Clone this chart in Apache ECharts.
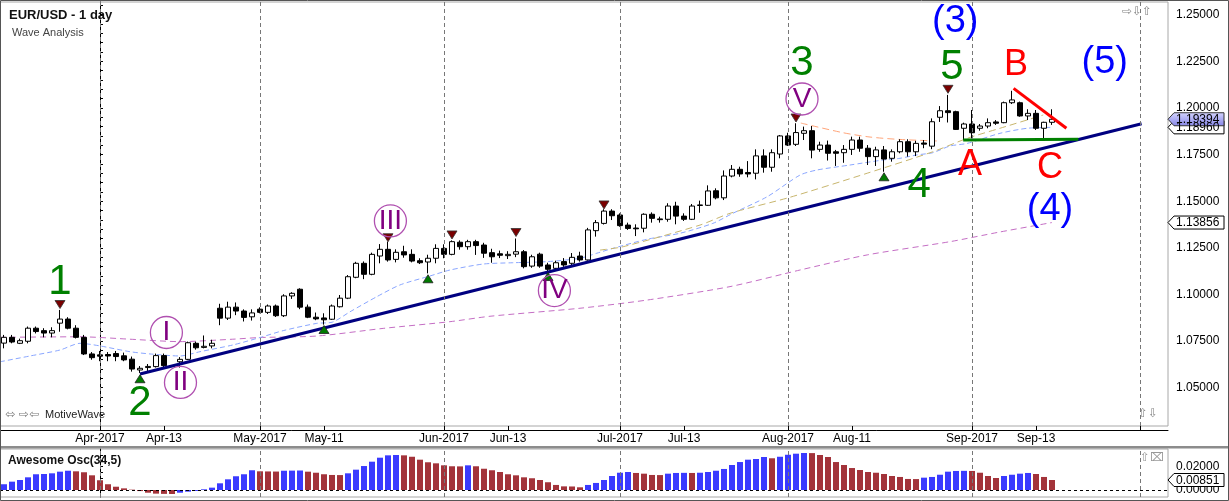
<!DOCTYPE html>
<html><head><meta charset="utf-8">
<script src="https://cdn.jsdelivr.net/npm/echarts@6/dist/echarts.min.js"></script>
<style>html,body{margin:0;padding:0;background:#fff}#c{width:1229px;height:501px}</style>
</head><body><div id="c"></div>
<script>
// ---------- DATA ----------
const dates = ['2017-03-16','2017-03-17','2017-03-20','2017-03-21','2017-03-22','2017-03-23','2017-03-24','2017-03-27','2017-03-28','2017-03-29','2017-03-30','2017-03-31',
'2017-04-03','2017-04-04','2017-04-05','2017-04-06','2017-04-07','2017-04-10','2017-04-11','2017-04-12','2017-04-13','2017-04-14','2017-04-17','2017-04-18','2017-04-19','2017-04-20','2017-04-21','2017-04-24','2017-04-25','2017-04-26','2017-04-27','2017-04-28',
'2017-05-01','2017-05-02','2017-05-03','2017-05-04','2017-05-05','2017-05-08','2017-05-09','2017-05-10','2017-05-11','2017-05-12','2017-05-15','2017-05-16','2017-05-17','2017-05-18','2017-05-19','2017-05-22','2017-05-23','2017-05-24','2017-05-25','2017-05-26','2017-05-29','2017-05-30','2017-05-31',
'2017-06-01','2017-06-02','2017-06-05','2017-06-06','2017-06-07','2017-06-08','2017-06-09','2017-06-12','2017-06-13','2017-06-14','2017-06-15','2017-06-16','2017-06-19','2017-06-20','2017-06-21','2017-06-22','2017-06-23','2017-06-26','2017-06-27','2017-06-28','2017-06-29','2017-06-30',
'2017-07-03','2017-07-04','2017-07-05','2017-07-06','2017-07-07','2017-07-10','2017-07-11','2017-07-12','2017-07-13','2017-07-14','2017-07-17','2017-07-18','2017-07-19','2017-07-20','2017-07-21','2017-07-24','2017-07-25','2017-07-26','2017-07-27','2017-07-28','2017-07-31',
'2017-08-01','2017-08-02','2017-08-03','2017-08-04','2017-08-07','2017-08-08','2017-08-09','2017-08-10','2017-08-11','2017-08-14','2017-08-15','2017-08-16','2017-08-17','2017-08-18','2017-08-21','2017-08-22','2017-08-23','2017-08-24','2017-08-25','2017-08-28','2017-08-29','2017-08-30','2017-08-31',
'2017-09-01','2017-09-04','2017-09-05','2017-09-06','2017-09-07','2017-09-08','2017-09-11','2017-09-12','2017-09-13','2017-09-14','2017-09-15'];
const firstIdx = -12; // trading-day position of first candle (Apr 3 = 0)

const open = [1.0739,1.0770,1.0738,1.0749,1.0819,1.0806,1.0793,1.0846,1.0868,1.0819,1.0770,1.0681,
1.0676,1.0678,1.0683,1.0671,1.0653,1.0595,1.0608,1.0613,1.0672,1.0616,1.0639,1.0652,1.0738,1.0716,1.0724,1.0926,1.0873,1.0932,1.0911,1.0880,
1.0921,1.0904,1.0938,1.0886,1.0992,1.1028,1.0932,1.0878,1.0874,1.0867,1.0934,1.0980,1.1092,1.1167,1.1108,1.1206,1.1242,1.1188,1.1229,1.1215,1.1181,1.1174,1.1194,
1.1247,1.1215,1.1280,1.1256,1.1283,1.1265,1.1224,1.1218,1.1208,1.1216,1.1229,1.1152,1.1216,1.1158,1.1140,1.1176,1.1167,1.1206,1.1185,1.1342,1.1381,1.1447,
1.1426,1.1372,1.1356,1.1355,1.1430,1.1405,1.1403,1.1474,1.1420,1.1403,1.1477,1.1478,1.1556,1.1518,1.1635,1.1671,1.1654,1.1650,1.1743,1.1682,1.1753,
1.1850,1.1805,1.1864,1.1878,1.1778,1.1801,1.1765,1.1760,1.1778,1.1828,1.1784,1.1739,1.1775,1.1730,1.1765,1.1819,1.1765,1.1812,1.1795,1.1950,1.1985,1.1980,1.1891,
1.1914,1.1891,1.1903,1.1925,1.1921,1.2028,1.2028,1.1957,1.1971,1.1891,1.1923];
const close = [1.0770,1.0745,1.0752,1.0819,1.0801,1.0793,1.0806,1.0868,1.0819,1.0770,1.0681,1.0661,
1.0669,1.0670,1.0667,1.0649,1.0600,1.0604,1.0614,1.0672,1.0618,1.0618,1.0652,1.0741,1.0714,1.0722,1.0738,1.0873,1.0932,1.0911,1.0877,1.0901,
1.0904,1.0938,1.0886,1.0992,1.1006,1.0932,1.0878,1.0869,1.0864,1.0938,1.0980,1.1095,1.1167,1.1108,1.1215,1.1242,1.1185,1.1226,1.1212,1.1179,1.1170,1.1194,1.1247,
1.1215,1.1283,1.1256,1.1283,1.1262,1.1221,1.1202,1.1210,1.1215,1.1229,1.1149,1.1202,1.1152,1.1135,1.1170,1.1158,1.1199,1.1185,1.1346,1.1385,1.1447,1.1422,
1.1369,1.1354,1.1352,1.1430,1.1408,1.1401,1.1474,1.1420,1.1403,1.1474,1.1480,1.1555,1.1518,1.1635,1.1671,1.1646,1.1646,1.1743,1.1682,1.1760,1.1850,
1.1801,1.1868,1.1878,1.1774,1.1801,1.1757,1.1757,1.1778,1.1828,1.1784,1.1739,1.1775,1.1726,1.1765,1.1819,1.1765,1.1810,1.1806,1.1926,1.1985,1.1975,1.1885,1.1914,
1.1867,1.1903,1.1921,1.1918,1.2028,1.2043,1.1957,1.1971,1.1891,1.1923,1.19394];
const high = [1.0783,1.0783,1.0763,1.0828,1.0828,1.0819,1.0824,1.0917,1.0878,1.0835,1.0783,1.0691,
1.0697,1.0691,1.0697,1.0688,1.0667,1.0616,1.0627,1.0683,1.0683,1.0621,1.0664,1.0747,1.0747,1.0780,1.0757,1.0950,1.0961,1.0957,1.0920,1.0920,
1.0931,1.0946,1.0946,1.1001,1.1012,1.1033,1.0946,1.0903,1.0899,1.0946,1.0997,1.1104,1.1175,1.1177,1.1224,1.1270,1.1283,1.1242,1.1261,1.1242,1.1194,1.1213,1.1269,
1.1269,1.1290,1.1290,1.1293,1.1293,1.1277,1.1245,1.1235,1.1232,1.1300,1.1238,1.1213,1.1224,1.1170,1.1181,1.1195,1.1222,1.1229,1.1357,1.1399,1.1457,1.1457,
1.1435,1.1385,1.1376,1.1435,1.1440,1.1417,1.1489,1.1497,1.1435,1.1485,1.1503,1.1585,1.1569,1.1665,1.1694,1.1685,1.1715,1.1778,1.1778,1.1778,1.1855,
1.1867,1.1918,1.1900,1.1903,1.1819,1.1825,1.1775,1.1801,1.1846,1.1846,1.1801,1.1792,1.1796,1.1778,1.1832,1.1832,1.1824,1.1828,1.1944,1.2010,1.2070,1.1985,1.1921,
1.1989,1.1914,1.1944,1.1935,1.2034,1.2092,1.2034,1.1993,1.1989,1.1926,1.1993];
const low = [1.0711,1.0738,1.0734,1.0738,1.0791,1.0770,1.0770,1.0800,1.0813,1.0764,1.0675,1.0650,
1.0642,1.0642,1.0642,1.0642,1.0586,1.0579,1.0590,1.0608,1.0608,1.0612,1.0608,1.0648,1.0704,1.0711,1.0711,1.0835,1.0863,1.0889,1.0855,1.0860,
1.0899,1.0895,1.0879,1.0879,1.0976,1.0921,1.0873,1.0862,1.0838,1.0863,1.0930,1.0975,1.1087,1.1082,1.1103,1.1167,1.1176,1.1172,1.1197,1.1172,1.1163,1.1113,1.1167,
1.1194,1.1210,1.1240,1.1240,1.1212,1.1196,1.1170,1.1195,1.1190,1.1200,1.1140,1.1143,1.1143,1.1123,1.1136,1.1148,1.1153,1.1176,1.1181,1.1310,1.1375,1.1399,
1.1363,1.1346,1.1313,1.1333,1.1385,1.1385,1.1390,1.1376,1.1394,1.1399,1.1438,1.1475,1.1510,1.1506,1.1628,1.1631,1.1628,1.1617,1.1653,1.1658,1.1730,
1.1796,1.1796,1.1828,1.1730,1.1765,1.1718,1.1689,1.1706,1.1748,1.1765,1.1694,1.1689,1.1658,1.1712,1.1757,1.1739,1.1742,1.1784,1.1779,1.1925,1.1922,1.1882,1.1828,
1.1837,1.1878,1.1891,1.1909,1.1918,1.2021,1.1953,1.1935,1.1882,1.1837,1.1909];

// Awesome Oscillator (34,5)
const ao = [0.0049,0.0071,0.0085,0.0108,0.0134,0.0136,0.0142,0.0156,0.0164,0.0159,0.0151,0.0125,
0.0083,0.0049,0.0028,0.0014,0.0003,-0.0009,-0.0023,-0.0031,-0.0033,-0.0034,-0.0023,-0.0014,-0.0008,0.0006,0.0020,0.0057,0.0091,0.0117,0.0134,0.0168,
0.0159,0.0158,0.0157,0.0164,0.0165,0.0166,0.0156,0.0147,0.0134,0.0128,0.0127,0.0142,0.0173,0.0204,0.0241,0.0275,0.0295,0.0298,0.0295,0.0283,0.0258,0.0236,0.0227,
0.0210,0.0202,0.0201,0.0210,0.0202,0.0181,0.0168,0.0153,0.0134,0.0125,0.0108,0.0100,0.0085,0.0066,0.0043,0.0031,0.0030,0.0023,0.0043,0.0060,0.0085,0.0119,
0.0147,0.0153,0.0145,0.0139,0.0128,0.0127,0.0139,0.0145,0.0146,0.0145,0.0147,0.0153,0.0164,0.0179,0.0213,0.0238,0.0258,0.0264,0.0281,0.0270,0.0283,
0.0300,0.0309,0.0315,0.0314,0.0298,0.0281,0.0238,0.0213,0.0187,0.0170,0.0153,0.0147,0.0136,0.0119,0.0111,0.0094,0.0093,0.0105,0.0111,0.0130,0.0156,0.0162,0.0163,
0.0162,0.0147,0.0119,0.0102,0.0119,0.0130,0.0139,0.0145,0.0136,0.0111,0.00851];

// x-axis ticks (trading-day positions) and their labels
const tickIdx = [0, 8, 20, 28, 43, 51, 65, 73, 86, 94, 109, 117];
const tickLabels = ['Apr-2017','Apr-13','May-2017','May-11','Jun-2017','Jun-13','Jul-2017','Jul-13','Aug-2017','Aug-11','Sep-2017','Sep-13'];
const monthIdx = [0, 20, 43, 65, 86, 109, 130];
const priceTicks = [1.05, 1.075, 1.1, 1.125, 1.15, 1.175, 1.2, 1.225, 1.25];
const aoTicks = [0, 0.02];

// moving averages: [position, price]
const maBlue = [[-12.5,1.0639],[-8.75,1.0670],[-5,1.0702],[-2.5,1.0738],[0,1.0724],[3.75,1.0693],[6.25,1.0681],[10,1.0670],[12.5,1.0693],[16.6,1.0729],[20,1.0769],[22.9,1.0806],[27.1,1.0845],[29.1,1.0852],[31.25,1.0907],[34.6,1.0988],[37.5,1.1051],[41.25,1.1099],[43.75,1.1131],[47.9,1.1163],[51.6,1.1170],[55.9,1.1176],[60,1.1194],[62.1,1.1221],[64.1,1.1247],[68.4,1.1296],[72.5,1.1328],[76.6,1.1381],[79.1,1.1435],[83.4,1.1524],[87.5,1.1640],[89.6,1.1667],[93.75,1.1694],[97.9,1.1721],[100,1.1730],[102.1,1.1748],[104.1,1.1760],[106.25,1.1796],[108.4,1.1810],[112.5,1.1864],[115.9,1.1891],[119,1.1896]];
const maKhaki = [[62.5,1.1238],[65.4,1.1256],[75,1.1372],[78.75,1.1435],[86.25,1.1521],[95.9,1.1650],[104.1,1.1765],[108.4,1.1837],[112.5,1.1891],[117.9,1.1962]];
const maOrange = [[87.6,1.1919],[92.9,1.1867],[96.25,1.1844],[100,1.1831],[104.6,1.1823]];
const maPurple = [[-12.5,1.0770],[-2.5,1.0773],[3.75,1.0760],[10,1.0747],[16.6,1.0760],[20,1.0769],[27.1,1.0777],[35.4,1.0818],[43.75,1.0854],[48.75,1.0883],[60,1.0926],[68.4,1.0970],[78.75,1.1042],[87.5,1.1131],[95.9,1.1212],[106.25,1.1283],[112.5,1.1335],[119,1.13856]];

// drawn lines
const trendNavy = [[5,1.0573],[130.2,1.1915]];
const trendRed = [[114.2,1.2105],[120.8,1.1891]];
const trendGreen = [[107.9,1.1828],[122.3,1.1832]];

// swing markers
const downIdx = [-5, 36, 44, 52, 63, 87, 106];
const downPrice = [1.0946, 1.1304, 1.1319, 1.1332, 1.1480, 1.1946, 1.2100];
const upIdx = [5, 28, 41, 56, 98];
const upPrice = [1.0548, 1.0812, 1.1084, 1.1096, 1.1631];

// wave labels
const waveText = ['1','2','3','4','5','A','B','C','(3)','(4)','(5)'];
const waveX = [-5, 5, 87.75, 102.4, 106.5, 108.75, 114.5, 118.75, 106.9, 118.75, 125.6];
const waveY = [1.1062, 1.0418, 1.2240, 1.1587, 1.2215, 1.1694, 1.2230, 1.1678, 1.2462, 1.1453, 1.2246];
const waveKind = ['g','g','g','g','g','r','r','r','b','b','b'];
const romanText = ['I','II','III','IV','V'];
const romanX = [8.3, 10.06, 36.3, 56.8, 87.75];
const romanY = [1.0796, 1.0528, 1.1394, 1.1021, 1.2048];

const lastPrice = 1.19394, maBlueLast = 1.18960, maPurpleLast = 1.13856, aoLast = 0.00851;

// ---------- CHART ----------
const FONT = 'Liberation Sans, Arial, sans-serif';
const chart = echarts.init(document.getElementById('c'));
const XMIN = -12.5, XMAX = 133.5;
const candles = dates.map((d, k) => [k + firstIdx, open[k], close[k], low[k], high[k]]);
const aoData = ao.map((v, k) => ({
  value: [k + firstIdx, v],
  itemStyle: { color: (k === 0 || v > ao[k - 1]) ? '#3a3aff' : '#a3333a' }
}));
const kindColor = { g: '#008000', r: '#ff0000', b: '#0000ff' };
const waveSize = { g: 42, r: 36, b: 38 };
const priceMinorTicks = [];
for (let k = 0; k <= 44; k++) priceMinorTicks.push(+(1.035 + k * 0.005).toFixed(3));

const monthLines = (color) => ({
  symbol: 'none', silent: true, animation: false,
  label: { show: false },
  lineStyle: { type: [4, 3], color: color, width: 1 },
  data: monthIdx.map(i => ({ xAxis: i }))
});

const lineSeries = (data, color, width, type, z) => ({
  type: 'line', xAxisIndex: 0, yAxisIndex: 0, data: data, symbol: 'none',
  smooth: 0.25, silent: true, z: z,
  lineStyle: { color: color, width: width, type: type }
});

const option = {
  animation: false,
  grid: [
    { left: 0, top: 2, width: 1168, height: 424, show: true, borderColor: '#a8a8a8', borderWidth: 1, backgroundColor: '#fff' },
    { left: 0, top: 449, width: 1168, height: 48, show: true, borderColor: '#a8a8a8', borderWidth: 1, backgroundColor: '#fff' }
  ],
  xAxis: [
    { type: 'value', gridIndex: 0, min: XMIN, max: XMAX, position: 'bottom', offset: 4,
      axisLine: { show: true, lineStyle: { color: '#000', width: 1 } },
      axisTick: { show: true, inside: true, length: 4, customValues: tickIdx.concat([130]), lineStyle: { color: '#000' } },
      axisLabel: { show: true, customValues: tickIdx, margin: 3, fontSize: 12, fontFamily: FONT, color: '#000',
        formatter: v => tickLabels[tickIdx.indexOf(Math.round(v))] || '' },
      splitLine: { show: false } },
    { type: 'value', gridIndex: 1, min: XMIN, max: XMAX, show: false, splitLine: { show: false } }
  ],
  yAxis: [
    { type: 'value', gridIndex: 0, min: 1.02946, max: 1.25681, position: 'right', offset: 4, scale: true,
      axisLine: { show: true, lineStyle: { color: '#000' } },
      axisTick: { show: true, length: 3, customValues: priceMinorTicks, lineStyle: { color: '#000' } },
      axisLabel: { show: true, customValues: priceTicks, margin: 4, fontSize: 12, fontFamily: FONT, color: '#000',
        formatter: v => v.toFixed(5) },
      splitLine: { show: false } },
    { type: 'value', gridIndex: 1, min: -0.005957, max: 0.034894, position: 'right', offset: 4,
      axisLine: { show: true, lineStyle: { color: '#000' } },
      axisTick: { show: true, length: 3, customValues: [0, 0.005, 0.01, 0.015, 0.02, 0.025, 0.03], lineStyle: { color: '#000' } },
      axisLabel: { show: true, customValues: aoTicks, margin: 4, fontSize: 12, fontFamily: FONT, color: '#000',
        formatter: v => v.toFixed(5) },
      splitLine: { show: false } }
  ],
  series: [
    lineSeries(maPurple, '#c46ec4', 1, [6, 4], 1),
    lineSeries(maBlue, '#8aa6ff', 1, [5, 3], 1),
    lineSeries(maKhaki, '#c8b66e', 1, [7, 4], 1),
    lineSeries(maOrange, '#ffa57a', 1, [7, 4], 1),
    { type: 'candlestick', xAxisIndex: 0, yAxisIndex: 0, data: candles,
      encode: { x: 0, y: [1, 2, 3, 4] }, barWidth: 6, z: 3, silent: true,
      itemStyle: { color: '#fff', color0: '#000', borderColor: '#000', borderColor0: '#000', borderWidth: 1 },
      markLine: monthLines('#777') },
    { type: 'line', xAxisIndex: 0, yAxisIndex: 0, data: trendNavy, symbol: 'none', z: 4, silent: true,
      lineStyle: { color: '#000080', width: 3 } },
    { type: 'line', xAxisIndex: 0, yAxisIndex: 0, data: trendRed, symbol: 'none', z: 4, silent: true,
      lineStyle: { color: '#ff0000', width: 3 } },
    { type: 'line', xAxisIndex: 0, yAxisIndex: 0, data: trendGreen, symbol: 'none', z: 4, silent: true,
      lineStyle: { color: '#008000', width: 3 } },
    { type: 'scatter', xAxisIndex: 0, yAxisIndex: 0, z: 5, silent: true,
      data: downIdx.map((x, k) => [x, downPrice[k]]),
      symbol: 'triangle', symbolSize: [10, 8], symbolRotate: 180,
      itemStyle: { color: '#7a0000', borderColor: '#333', borderWidth: 0.8, opacity: 1 } },
    { type: 'scatter', xAxisIndex: 0, yAxisIndex: 0, z: 5, silent: true,
      data: upIdx.map((x, k) => [x, upPrice[k]]),
      symbol: 'triangle', symbolSize: [10, 8],
      itemStyle: { color: '#007a00', borderColor: '#222', borderWidth: 0.8, opacity: 1 } },
    { type: 'scatter', xAxisIndex: 0, yAxisIndex: 0, z: 6, silent: true,
      data: romanX.map((x, k) => ({ value: [x, romanY[k]],
        label: { show: true, position: 'inside', formatter: romanText[k], fontSize: 28, fontFamily: FONT, color: '#800080' } })),
      symbol: 'circle', symbolSize: 32,
      itemStyle: { color: 'rgba(255,255,255,0)', borderColor: '#b050b0', borderWidth: 1.3, opacity: 1 } },
    { type: 'scatter', xAxisIndex: 0, yAxisIndex: 0, z: 7, silent: true,
      data: waveX.map((x, k) => ({ value: [x, waveY[k]],
        label: { show: true, position: 'inside', formatter: waveText[k], fontSize: waveSize[waveKind[k]], fontFamily: FONT, color: kindColor[waveKind[k]] } })),
      symbolSize: 1, itemStyle: { color: 'rgba(0,0,0,0)', opacity: 1 } },
    { type: 'bar', xAxisIndex: 1, yAxisIndex: 1, data: aoData, barWidth: 6, silent: true, z: 2,
      markLine: {
        symbol: 'none', silent: true, label: { show: false },
        data: [
          { yAxis: 0, lineStyle: { type: [3, 3], color: '#000', width: 1 } }
        ].concat(monthIdx.map(i => ({ xAxis: i, lineStyle: { type: [4, 3], color: '#777', width: 1 } })))
      } }
  ]
};
chart.setOption(option);

// ---------- overlays: titles, value tags ----------
function tag(y, text, fill, stroke) {
  const x0 = 1168, w = 56, h = 13;
  return { type: 'group', z: 200, children: [
    { type: 'polygon', z: 200, shape: { points: [[x0, y], [x0 + 6, y - h / 2], [x0 + w, y - h / 2], [x0 + w, y + h / 2], [x0 + 6, y + h / 2]] },
      style: { fill: fill, stroke: stroke, lineWidth: 1 } },
    { type: 'text', z: 201, style: { x: x0 + 8, y: y + 0.5, text: text, fontSize: 12, fontFamily: FONT, fill: '#000', verticalAlign: 'middle' } }
  ] };
}
const yP = v => chart.convertToPixel({ yAxisIndex: 0 }, v);
const yA = v => chart.convertToPixel({ yAxisIndex: 1 }, v);
const grad = new echarts.graphic.LinearGradient(0, 0, 0, 1, [{ offset: 0, color: '#d6d6ff' }, { offset: 1, color: '#8484e6' }]);

chart.setOption({
  graphic: [
    { type: 'rect', z: 50, shape: { x: 0, y: 446, width: 1229, height: 2.5 }, style: { fill: '#8c8c8c' } },
    { type: 'rect', z: 50, shape: { x: 0.5, y: 0.5, width: 1228, height: 500 }, style: { fill: 'none', stroke: '#555', lineWidth: 1 } },
    { type: 'text', z: 60, style: { x: 9, y: 15, text: 'EUR/USD - 1 day', fontSize: 13, fontWeight: 'bold', fontFamily: FONT, fill: '#111', verticalAlign: 'middle' } },
    { type: 'text', z: 60, style: { x: 12, y: 32.5, text: 'Wave Analysis', fontSize: 11, fontFamily: FONT, fill: '#444', verticalAlign: 'middle' } },
    { type: 'text', z: 60, style: { x: 5, y: 415, text: '⬄ ⇨⇦', fontSize: 12, fontFamily: 'DejaVu Sans', fill: '#777', verticalAlign: 'middle' } },
    { type: 'text', z: 60, style: { x: 45, y: 415, text: 'MotiveWave', fontSize: 11, fontFamily: FONT, fill: '#222', verticalAlign: 'middle' } },
    { type: 'text', z: 60, style: { x: 1122, y: 12, text: '⇨⇩⇧', fontSize: 12, fontFamily: 'DejaVu Sans', fill: '#888', verticalAlign: 'middle' } },
    { type: 'text', z: 60, style: { x: 1138, y: 414, text: '⇧⇩', fontSize: 12, fontFamily: 'DejaVu Sans', fill: '#888', verticalAlign: 'middle' } },
    { type: 'text', z: 60, style: { x: 8, y: 461, text: 'Awesome Osc(34,5)', fontSize: 12, fontWeight: 'bold', fontFamily: FONT, fill: '#111', verticalAlign: 'middle' } },
    { type: 'text', z: 60, style: { x: 1140, y: 458, text: '⇧⌧', fontSize: 12, fontFamily: 'DejaVu Sans', fill: '#999', verticalAlign: 'middle' } },
    tag(yP(maPurpleLast), maPurpleLast.toFixed(5), '#fff', '#000'),
    tag(yP(maBlueLast), maBlueLast.toFixed(5), '#fff', '#000'),
    tag(yP(lastPrice), lastPrice.toFixed(5), grad, '#333'),
    tag(yA(aoLast), aoLast.toFixed(5), '#fff', '#000')
  ]
});
</script></body></html>
